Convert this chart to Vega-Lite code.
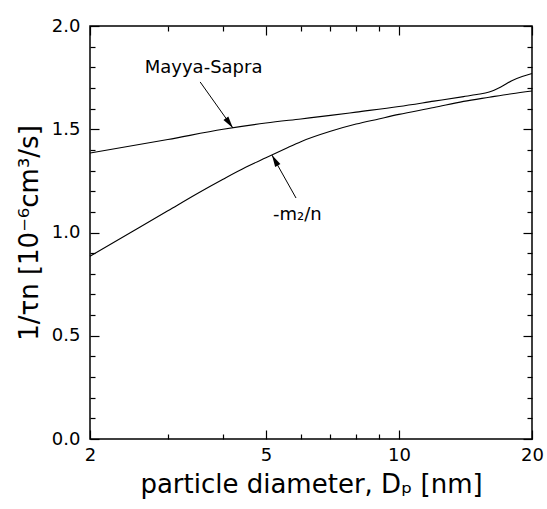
{
  "$schema": "https://vega.github.io/schema/vega-lite/v6.json",
  "width": 442,
  "height": 413,
  "autosize": {"type": "none"},
  "padding": {"left": 90, "top": 26, "right": 15, "bottom": 70},
  "background": "white",
  "config": {
    "view": {"stroke": "black", "strokeWidth": 1.5},
    "font": "DejaVu Sans",
    "axis": {
      "domain": false,
      "grid": false,
      "labelFont": "DejaVu Sans",
      "titleFont": "DejaVu Sans",
      "labelColor": "black",
      "titleColor": "black",
      "tickColor": "black",
      "tickWidth": 1.2,
      "titleFontWeight": "normal",
      "labelOverlap": false,
      "labelFlush": false
    }
  },
  "datasets": {
    "curves": [
      {"series": "Mayya-Sapra", "D": 2, "v": 1.385},
      {"series": "Mayya-Sapra", "D": 3, "v": 1.45},
      {"series": "Mayya-Sapra", "D": 4, "v": 1.5},
      {"series": "Mayya-Sapra", "D": 5, "v": 1.53},
      {"series": "Mayya-Sapra", "D": 6, "v": 1.55},
      {"series": "Mayya-Sapra", "D": 7, "v": 1.567},
      {"series": "Mayya-Sapra", "D": 8, "v": 1.583},
      {"series": "Mayya-Sapra", "D": 10, "v": 1.61},
      {"series": "Mayya-Sapra", "D": 12, "v": 1.636},
      {"series": "Mayya-Sapra", "D": 14, "v": 1.658},
      {"series": "Mayya-Sapra", "D": 15, "v": 1.668},
      {"series": "Mayya-Sapra", "D": 16, "v": 1.68},
      {"series": "Mayya-Sapra", "D": 17, "v": 1.705},
      {"series": "Mayya-Sapra", "D": 18, "v": 1.735},
      {"series": "Mayya-Sapra", "D": 19, "v": 1.755},
      {"series": "Mayya-Sapra", "D": 20, "v": 1.77},
      {"series": "-m2/n", "D": 2, "v": 0.885},
      {"series": "-m2/n", "D": 2.5, "v": 1.006},
      {"series": "-m2/n", "D": 3, "v": 1.105},
      {"series": "-m2/n", "D": 3.5, "v": 1.189},
      {"series": "-m2/n", "D": 4, "v": 1.258},
      {"series": "-m2/n", "D": 4.5, "v": 1.316},
      {"series": "-m2/n", "D": 5, "v": 1.362},
      {"series": "-m2/n", "D": 5.5, "v": 1.403},
      {"series": "-m2/n", "D": 6, "v": 1.44},
      {"series": "-m2/n", "D": 7, "v": 1.49},
      {"series": "-m2/n", "D": 8, "v": 1.525},
      {"series": "-m2/n", "D": 9, "v": 1.55},
      {"series": "-m2/n", "D": 10, "v": 1.572},
      {"series": "-m2/n", "D": 12, "v": 1.605},
      {"series": "-m2/n", "D": 14, "v": 1.635},
      {"series": "-m2/n", "D": 16, "v": 1.655},
      {"series": "-m2/n", "D": 18, "v": 1.672},
      {"series": "-m2/n", "D": 20, "v": 1.685}
    ],
    "labels": [
      {"label": "Mayya-Sapra", "D": 2.66, "v": 1.772},
      {"label": "-m₂/n", "D": 5.19, "v": 1.06}
    ],
    "arrows": [
      {"target": "Mayya-Sapra", "D0": 3.55, "v0": 1.729, "D1": 4.21, "v1": 1.506},
      {"target": "-m2/n", "D0": 5.85, "v0": 1.167, "D1": 5.16, "v1": 1.375}
    ]
  },
  "layer": [
    {
      "data": {"name": "curves"},
      "mark": {"type": "line", "color": "black", "strokeWidth": 1.1, "interpolate": "monotone"},
      "encoding": {
        "x": {
          "field": "D", "type": "quantitative",
          "scale": {"type": "log", "domain": [2, 20]},
          "axis": {
            "orient": "bottom",
            "values": [2, 5, 10, 20],
            "format": "d",
            "tickSize": -9,
            "labelPadding": 16,
            "labelFontSize": 18,
            "title": "particle diameter, Dₚ [nm]",
            "titleFontSize": 26,
            "titlePadding": 7
          }
        },
        "y": {
          "field": "v", "type": "quantitative",
          "scale": {"domain": [0, 2]},
          "axis": {
            "orient": "left",
            "values": [0, 0.5, 1.0, 1.5, 2.0],
            "format": ".1f",
            "tickSize": -9,
            "labelPadding": 19,
            "labelFontSize": 18,
            "title": "1/τn [10⁻⁶cm³/s]",
            "titleFontSize": 26,
            "titlePadding": 9
          }
        },
        "detail": {"field": "series"}
      }
    },
    {
      "data": {"name": "arrows"},
      "mark": {"type": "rule", "color": "black", "strokeWidth": 1},
      "encoding": {
        "x": {
          "field": "D0", "type": "quantitative",
          "scale": {"type": "log", "domain": [2, 20]},
          "axis": {"orient": "top", "values": [2, 5, 10, 20], "labels": false, "title": null, "tickSize": -9}
        },
        "x2": {"field": "D1"},
        "y": {
          "field": "v0", "type": "quantitative",
          "scale": {"domain": [0, 2]},
          "axis": {"orient": "right", "values": [0, 0.5, 1.0, 1.5, 2.0], "labels": false, "title": null, "tickSize": -9}
        },
        "y2": {"field": "v1"}
      }
    },
    {
      "data": {"name": "labels"},
      "mark": {"type": "text", "align": "left", "baseline": "alphabetic", "fontSize": 18, "font": "DejaVu Sans", "color": "black"},
      "encoding": {
        "x": {
          "field": "D", "type": "quantitative", "scale": {"type": "log", "domain": [2, 20]},
          "axis": {"orient": "bottom", "values": [3, 4, 6, 7, 8, 9], "labels": false, "title": null, "tickSize": -5}
        },
        "y": {
          "field": "v", "type": "quantitative", "scale": {"domain": [0, 2]},
          "axis": {"orient": "left", "values": [0.1, 0.2, 0.3, 0.4, 0.6, 0.7, 0.8, 0.9, 1.1, 1.2, 1.3, 1.4, 1.6, 1.7, 1.8, 1.9], "labels": false, "title": null, "tickSize": -5}
        },
        "text": {"field": "label"}
      }
    },
    {
      "data": {"name": "arrows"},
      "transform": [{"filter": "datum.target == 'Mayya-Sapra'"}],
      "mark": {"type": "point", "shape": "M0,0L-0.5,2L0.5,2Z", "size": 144, "filled": true, "color": "black", "opacity": 1, "angle": 144.4},
      "encoding": {
        "x": {
          "field": "D1", "type": "quantitative", "scale": {"type": "log", "domain": [2, 20]},
          "axis": {"orient": "top", "values": [3, 4, 6, 7, 8, 9], "labels": false, "title": null, "tickSize": -5}
        },
        "y": {
          "field": "v1", "type": "quantitative", "scale": {"domain": [0, 2]},
          "axis": {"orient": "right", "values": [0.1, 0.2, 0.3, 0.4, 0.6, 0.7, 0.8, 0.9, 1.1, 1.2, 1.3, 1.4, 1.6, 1.7, 1.8, 1.9], "labels": false, "title": null, "tickSize": -5}
        }
      }
    },
    {
      "data": {"name": "arrows"},
      "transform": [{"filter": "datum.target == '-m2/n'"}],
      "mark": {"type": "point", "shape": "M0,0L-0.5,2L0.5,2Z", "size": 144, "filled": true, "color": "black", "opacity": 1, "angle": 330.8},
      "encoding": {
        "x": {"field": "D1", "type": "quantitative", "scale": {"type": "log", "domain": [2, 20]}, "axis": null},
        "y": {"field": "v1", "type": "quantitative", "scale": {"domain": [0, 2]}, "axis": null}
      }
    }
  ],
  "resolve": {"axis": {"x": "independent", "y": "independent"}}
}
